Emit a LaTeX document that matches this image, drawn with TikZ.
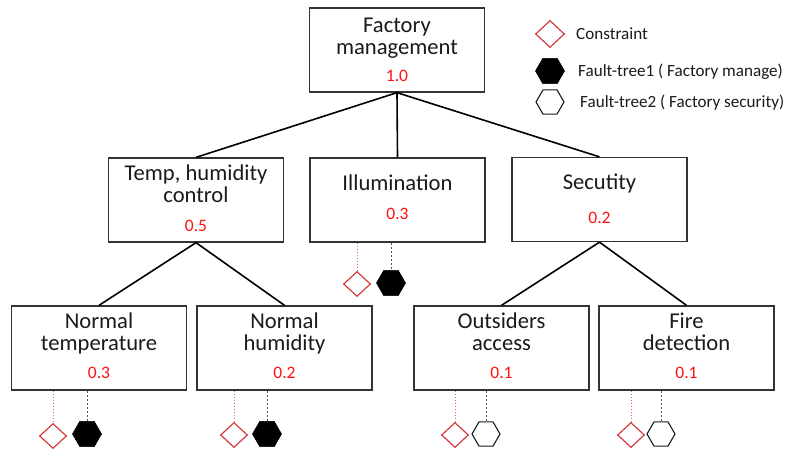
\documentclass[tikz,border=0pt]{standalone}
\usepackage{fontspec}
\setmainfont{Carlito}
\usetikzlibrary{shapes.geometric}
\definecolor{ink}{HTML}{1A1A1A}
\definecolor{frame}{HTML}{333333}
\definecolor{weight}{HTML}{FF1010}
\definecolor{cons}{HTML}{D32F2F}
\definecolor{dashgrey}{HTML}{555555}
\begin{document}
\begin{tikzpicture}[x=1pt,y=-1pt,
  box/.style={draw=frame, line width=1.3pt, minimum width=175pt, minimum height=84pt, inner sep=0pt},
  title/.style={anchor=base, text=ink, inner sep=0pt, font=\fontsize{22.6}{22.6}\selectfont},
  num/.style={anchor=base, text=weight, inner sep=0pt, font=\fontsize{17.5}{17.5}\selectfont},
  legtext/.style={anchor=base west, text=ink, inner sep=0pt, font=\fontsize{17.1}{17.1}\selectfont},
  link/.style={draw=black, line width=1.6pt},
  conslink/.style={draw=cons!70, line width=0.9pt, dash pattern=on 1.5pt off 1.5pt},
  faultlink/.style={draw=dashgrey, line width=0.8pt, dash pattern=on 2pt off 2pt},
  consmark/.style={shape=diamond, draw=cons, line width=1.1pt, minimum width=27pt, minimum height=25pt, inner sep=0pt},
  faultone/.style={shape=regular polygon, regular polygon sides=6, fill=black, draw=black, line width=0.6pt, minimum size=29pt, inner sep=0pt},
  faulttwo/.style={shape=regular polygon, regular polygon sides=6, fill=white, draw=ink, line width=1.1pt, minimum size=28pt, inner sep=0pt}]
\useasboundingbox (0,0) rectangle (787,453);

% boxes
\node[box] (root)  at (397,50) {};
\node[box] (temp)  at (196,200) {};
\node[box] (illum) at (397.5,200) {};
\node[box] (sec)   at (599.5,199.5) {};
\node[box] (nt)    at (99,348) {};
\node[box] (nh)    at (284.5,348) {};
\node[box] (oa)    at (501.5,348) {};
\node[box] (fd)    at (686.5,348) {};

% box texts
\node[title] (rootA) at (397,32) {Factory};
\node[title] (rootB) at (397,54) {management};
\node[num]   (rootN) at (397,81) {1.0};

\node[title] (tempA) at (196,180) {Temp, humidity};
\node[title] (tempB) at (196,202) {control};
\node[num]   (tempN) at (196,231) {0.5};

\node[title] (illumA) at (397.5,190) {Illumination};
\node[num]   (illumN) at (397.5,219) {0.3};

\node[title] (secA) at (599.5,189) {Secutity};
\node[num]   (secN) at (599.5,223) {0.2};

\node[title] (ntA) at (99,328) {Normal};
\node[title] (ntB) at (99,350) {temperature};
\node[num]   (ntN) at (99,378) {0.3};

\node[title] (nhA) at (284.5,328) {Normal};
\node[title] (nhB) at (284.5,350) {humidity};
\node[num]   (nhN) at (284.5,378) {0.2};

\node[title] (oaA) at (501.5,328) {Outsiders};
\node[title] (oaB) at (501.5,350) {access};
\node[num]   (oaN) at (501.5,378) {0.1};

\node[title] (fdA) at (686.5,328) {Fire};
\node[title] (fdB) at (686.5,350) {detection};
\node[num]   (fdN) at (686.5,378) {0.1};

% tree edges
\draw[link] (root.south) -- (temp.north);
\draw[link] (root.south) -- (illum.north);
\draw[link] (root.south) -- (sec.north);
\draw[link] (temp.south) -- (nt.north);
\draw[link] (temp.south) -- (nh.north);
\draw[link] (sec.south) -- (oa.north);
\draw[link] (sec.south) -- (fd.north);

% markers under the nodes
\node[consmark] (illumC) at (357,284) {};
\node[faultone] (illumF) at (391,283) {};
\draw[conslink]  (illumC.north |- illum.south) -- (illumC.north);
\draw[faultlink] (illumF.north |- illum.south) -- (illumF.north);

\node[consmark] (ntC) at (53,436) {};
\node[faultone] (ntF) at (87,434) {};
\draw[conslink]  (ntC.north |- nt.south) -- (ntC.north);
\draw[faultlink] (ntF.north |- nt.south) -- (ntF.north);

\node[consmark] (nhC) at (234,435) {};
\node[faultone] (nhF) at (267,434) {};
\draw[conslink]  (nhC.north |- nh.south) -- (nhC.north);
\draw[faultlink] (nhF.north |- nh.south) -- (nhF.north);

\node[consmark] (oaC) at (455,435) {};
\node[faulttwo] (oaF) at (486,434) {};
\draw[conslink]  (oaC.north |- oa.south) -- (oaC.north);
\draw[faultlink] (oaF.north |- oa.south) -- (oaF.north);

\node[consmark] (fdC) at (631,435) {};
\node[faulttwo] (fdF) at (661,434) {};
\draw[conslink]  (fdC.north |- fd.south) -- (fdC.north);
\draw[faultlink] (fdF.north |- fd.south) -- (fdF.north);

% legend
\node[consmark, minimum width=29pt, minimum height=27pt] (legC) at (550,34) {};
\node[legtext] (legCt) at (576,39) {Constraint};
\node[faultone] (legF1) at (550,71) {};
\node[legtext] (legF1t) at (578,76) {Fault-tree1 ( Factory manage)};
\node[faulttwo] (legF2) at (550,102) {};
\node[legtext] (legF2t) at (580,107) {Fault-tree2 ( Factory security)};
\end{tikzpicture}
\end{document}
